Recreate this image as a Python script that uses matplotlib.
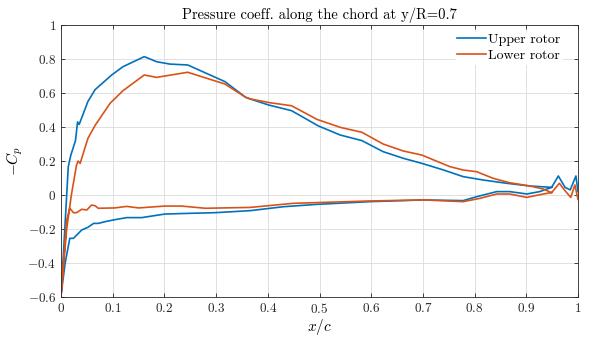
import numpy as np
import matplotlib
matplotlib.use("Agg")
import matplotlib.pyplot as plt
from matplotlib.ticker import FuncFormatter

plt.rcParams['font.family'] = 'serif'
plt.rcParams['font.serif'] = ['cmr10']
plt.rcParams['mathtext.fontset'] = 'cm'
plt.rcParams['axes.unicode_minus'] = False

# Upper rotor - suction side (-Cp > 0)
up_x_s = [0.0, 0.014, 0.019, 0.028, 0.032, 0.035, 0.037, 0.052, 0.066, 0.098, 0.12, 0.161,
          0.185, 0.211, 0.245, 0.317, 0.357, 0.366, 0.401, 0.446, 0.498, 0.54, 0.582, 0.623,
          0.662, 0.698, 0.74, 0.778, 0.817, 0.862, 0.907, 0.949, 0.962, 0.975, 0.985, 0.996, 1.0]
up_cp_s = [-0.6, 0.166, 0.235, 0.32, 0.43, 0.415, 0.43, 0.55, 0.62, 0.706, 0.755, 0.814,
           0.784, 0.77, 0.765, 0.667, 0.575, 0.565, 0.53, 0.496, 0.406, 0.353, 0.32, 0.255,
           0.216, 0.186, 0.147, 0.108, 0.088, 0.069, 0.053, 0.045, 0.112, 0.045, 0.03, 0.112, 0.02]
# Upper rotor - pressure side
up_x_p = [0.0, 0.008, 0.017, 0.024, 0.04, 0.052, 0.063, 0.072, 0.085, 0.101, 0.127, 0.156,
          0.201, 0.246, 0.298, 0.366, 0.43, 0.495, 0.598, 0.701, 0.778, 0.804, 0.843, 0.868,
          0.901, 0.926, 0.949]
up_cp_p = [-0.59, -0.4, -0.255, -0.255, -0.206, -0.19, -0.167, -0.167, -0.157, -0.147, -0.133, -0.133,
           -0.112, -0.108, -0.104, -0.092, -0.069, -0.055, -0.039, -0.029, -0.033, -0.01, 0.02, 0.02,
           0.006, 0.02, 0.045]

# Lower rotor - suction side
lo_x_s = [0.0, 0.011, 0.02, 0.03, 0.033, 0.037, 0.052, 0.066, 0.095, 0.12, 0.161, 0.185,
          0.245, 0.317, 0.357, 0.366, 0.404, 0.446, 0.495, 0.54, 0.582, 0.623, 0.662, 0.698,
          0.752, 0.778, 0.804, 0.836, 0.868, 0.907, 0.933, 0.949, 0.964, 0.975, 0.986, 0.994, 1.0]
lo_cp_s = [-0.59, -0.2, 0.0, 0.176, 0.2, 0.186, 0.333, 0.41, 0.54, 0.614, 0.706, 0.692,
           0.722, 0.653, 0.575, 0.565, 0.543, 0.525, 0.445, 0.398, 0.369, 0.3, 0.259, 0.235,
           0.167, 0.147, 0.137, 0.098, 0.072, 0.053, 0.035, 0.014, 0.069, 0.025, -0.014, 0.059, -0.025]
# Lower rotor - pressure side
lo_x_p = [0.0, 0.011, 0.017, 0.024, 0.03, 0.04, 0.05, 0.059, 0.066, 0.072, 0.104, 0.127,
          0.15, 0.201, 0.233, 0.279, 0.366, 0.449, 0.598, 0.701, 0.778, 0.81, 0.843, 0.868,
          0.901, 0.933, 0.949]
lo_cp_p = [-0.59, -0.147, -0.078, -0.104, -0.104, -0.084, -0.088, -0.059, -0.063, -0.078, -0.076, -0.067,
           -0.076, -0.065, -0.065, -0.078, -0.073, -0.049, -0.035, -0.029, -0.039, -0.02, 0.006, 0.006,
           -0.014, 0.006, 0.014]

blue = '#0072BD'
orange = '#D95319'

fig = plt.figure(figsize=(5.89, 3.38), dpi=100)
ax = fig.add_axes([0.1036, 0.1213, 0.8777, 0.8047])

ax.plot(up_x_p[::-1] + up_x_s, up_cp_p[::-1] + up_cp_s, color=blue, lw=1.2, label='Upper rotor')
ax.plot(lo_x_p[::-1] + lo_x_s, lo_cp_p[::-1] + lo_cp_s, color=orange, lw=1.2, label='Lower rotor')

ax.set_xlim(0, 1)
ax.set_ylim(-0.6, 1)
ax.set_xticks(np.arange(0, 1.01, 0.1))
ax.set_yticks(np.arange(-0.6, 1.01, 0.2))
fmt = FuncFormatter(lambda v, p: '$%g$' % round(v, 2))
ax.xaxis.set_major_formatter(fmt)
ax.yaxis.set_major_formatter(fmt)
ax.tick_params(direction='in', top=True, right=True, length=3, width=0.6,
               labelsize=9.5, colors='#262626')
ax.grid(True, color='#dcdcdc', lw=0.6)
ax.set_axisbelow(True)
for s in ax.spines.values():
    s.set_color('#262626')
    s.set_linewidth(0.6)

ax.set_title('Pressure coeff. along the chord at y/R=0.7', fontsize=10.5, pad=4)
ax.set_xlabel('$x/c$', fontsize=11, labelpad=1)
ax.set_ylabel('$-C_p$', fontsize=11, labelpad=2)

leg = ax.legend(loc='upper right', bbox_to_anchor=(0.968, 0.975), frameon=True,
                fancybox=False, edgecolor='white', framealpha=1, fontsize=10,
                handlelength=2.1, handletextpad=0.1, borderaxespad=0.0,
                borderpad=0.1, labelspacing=0.25)

fig.savefig('out.png', dpi=100)
